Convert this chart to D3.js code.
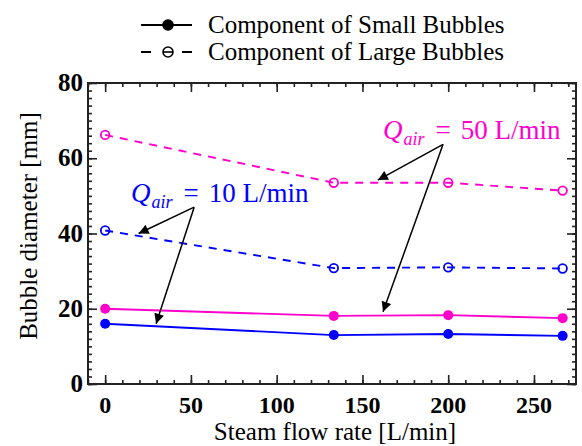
<!DOCTYPE html>
<html>
<head>
<meta charset="utf-8">
<script src="https://cdn.jsdelivr.net/npm/d3@7"></script>
<style>
  body { margin: 0; background: #fff; }
  svg text { font-family: "Liberation Serif", "Times New Roman", serif; }
</style>
</head>
<body>
<div id="chart"></div>
<script>
// steam flow rate [L/min]
const steamFlow = [0, 133.3, 200, 266.7];

// bubble diameter [mm]
const small10 = [16.0, 13.0, 13.3, 12.8];
const small50 = [20.0, 18.1, 18.3, 17.5];
const large10 = [40.8, 30.8, 31.0, 30.7];
const large50 = [66.2, 53.5, 53.5, 51.4];

const xTicks = [0, 50, 100, 150, 200, 250];
const yTicks = [0, 20, 40, 60, 80];

const blue = '#0000ff';
const pink = '#ff00cc';

const width = 582;
const height = 446;
const margin = {top: 83, right: 6, bottom: 62, left: 88};

const svg = d3.select('#chart')
    .append('svg')
    .attr('width', width)
    .attr('height', height);

const x = d3.scaleLinear()
    .domain([-10, 274.5])
    .range([margin.left, width - margin.right]);

const y = d3.scaleLinear()
    .domain([0, 80])
    .range([height - margin.bottom, margin.top]);

const x0 = margin.left, x1 = width - margin.right;
const y0 = height - margin.bottom, y1 = margin.top;

// ticks on all four sides, pointing in
const xMinor = d3.range(-10, 275, 10);
const yMinor = d3.range(0, 81, 2);

function tickAxis(axis, pos, ticks, size) {
    const g = svg.append('g')
        .attr('transform', pos)
        .call(axis.tickValues(ticks).tickSize(size).tickFormat(''));
    g.select('.domain').remove();
    g.selectAll('line').attr('stroke', '#222').attr('stroke-width', 1.6);
    return g;
}

tickAxis(d3.axisBottom(x), `translate(0,${y0})`, xMinor, -4);
tickAxis(d3.axisTop(x), `translate(0,${y1})`, xMinor, -4);
tickAxis(d3.axisBottom(x), `translate(0,${y0})`, xTicks, -9);
tickAxis(d3.axisTop(x), `translate(0,${y1})`, xTicks, -9);
tickAxis(d3.axisLeft(y), `translate(${x0},0)`, yMinor, -4);
tickAxis(d3.axisRight(y), `translate(${x1},0)`, yMinor, -4);
tickAxis(d3.axisLeft(y), `translate(${x0},0)`, yTicks, -9);
tickAxis(d3.axisRight(y), `translate(${x1},0)`, yTicks, -9);

// tick labels
svg.append('g').selectAll('text')
    .data(xTicks)
    .enter().append('text')
    .attr('x', d => x(d))
    .attr('y', y0 + 29)
    .attr('text-anchor', 'middle')
    .attr('font-size', 24)
    .attr('font-weight', 'bold')
    .text(d => d);

svg.append('g').selectAll('text')
    .data(yTicks)
    .enter().append('text')
    .attr('x', x0 - 5)
    .attr('y', d => y(d) + 8)
    .attr('text-anchor', 'end')
    .attr('font-size', 25)
    .attr('font-weight', 'bold')
    .text(d => d);

// frame
svg.append('rect')
    .attr('x', x0)
    .attr('y', y1)
    .attr('width', x1 - x0)
    .attr('height', y0 - y1)
    .attr('fill', 'none')
    .attr('stroke', '#222')
    .attr('stroke-width', 2);

// axis titles
svg.append('text')
    .attr('x', (x0 + x1) / 2 + 3)
    .attr('y', 440)
    .attr('text-anchor', 'middle')
    .attr('font-size', 25)
    .text('Steam flow rate [L/min]');

svg.append('text')
    .attr('transform', `translate(37,226) rotate(-90)`)
    .attr('text-anchor', 'middle')
    .attr('font-size', 25)
    .text('Bubble diameter [mm]');

// series
const series = [
    {values: large50, color: pink, dashed: true},
    {values: large10, color: blue, dashed: true},
    {values: small50, color: pink, dashed: false},
    {values: small10, color: blue, dashed: false}
];

const line = d3.line()
    .x((d, i) => x(steamFlow[i]))
    .y(d => y(d));

series.forEach(s => {
    svg.append('path')
        .datum(s.values)
        .attr('d', line)
        .attr('fill', 'none')
        .attr('stroke', s.color)
        .attr('stroke-width', 1.9)
        .attr('stroke-dasharray', s.dashed ? '8,7' : null);

    svg.append('g').selectAll('circle')
        .data(s.values)
        .enter().append('circle')
        .attr('cx', (d, i) => x(steamFlow[i]))
        .attr('cy', d => y(d))
        .attr('r', s.dashed ? 4.3 : 5)
        .attr('fill', s.dashed ? 'none' : s.color)
        .attr('stroke', s.color)
        .attr('stroke-width', s.dashed ? 1.8 : 0);
});

// annotations
const defs = svg.append('defs');
defs.append('marker')
    .attr('id', 'head')
    .attr('viewBox', '0 0 10 10')
    .attr('refX', 10)
    .attr('refY', 5)
    .attr('markerWidth', 13)
    .attr('markerHeight', 10)
    .attr('markerUnits', 'userSpaceOnUse')
    .attr('orient', 'auto')
    .append('path')
    .attr('d', 'M0,0 L10,5 L0,10 z')
    .attr('fill', '#000');

const notes = [
    {label: '10', color: blue, tx: 131, ty: 202, from: [51.9, 47.0], to: [[19.5, 40.0], [29.7, 16.0]]},
    {label: '50', color: pink, tx: 383, ty: 139, from: [197, 63.7], to: [[159, 54.2], [162, 19.2]]}
];

notes.forEach(n => {
    const t = svg.append('text')
        .attr('x', n.tx)
        .attr('y', n.ty)
        .attr('fill', n.color)
        .attr('font-size', 27);
    t.append('tspan').attr('font-style', 'italic').text('Q');
    t.append('tspan').attr('font-style', 'italic').attr('font-size', 18).attr('dx', 1).attr('dy', 6).text('air');
    t.append('tspan').attr('dy', -6).attr('dx', 11).text('=');
    t.append('tspan').attr('dx', 10).text(`${n.label} L/min`);

    n.to.forEach(p => {
        svg.append('line')
            .attr('x1', x(n.from[0]))
            .attr('y1', y(n.from[1]))
            .attr('x2', x(p[0]))
            .attr('y2', y(p[1]))
            .attr('stroke', '#000')
            .attr('stroke-width', 1.5)
            .attr('marker-end', 'url(#head)');
    });
});

// legend
const legendItems = [
    {name: 'Component of Small Bubbles', dashed: false},
    {name: 'Component of Large Bubbles', dashed: true}
];

const legend = svg.append('g')
    .selectAll('g')
    .data(legendItems)
    .enter().append('g')
    .attr('transform', (d, i) => `translate(141,${25 + i * 27})`);

legend.append('line')
    .attr('x1', 0)
    .attr('x2', 51)
    .attr('stroke', '#000')
    .attr('stroke-width', 2.2)
    .attr('stroke-dasharray', d => d.dashed ? '10,31,10' : null);

legend.append('circle')
    .attr('cx', 27)
    .attr('r', d => d.dashed ? 5 : 5.8)
    .attr('fill', d => d.dashed ? '#fff' : '#000')
    .attr('stroke', '#000')
    .attr('stroke-width', d => d.dashed ? 1.6 : 0);

legend.filter(d => d.dashed).append('line')
    .attr('x1', 22)
    .attr('x2', 32)
    .attr('stroke', '#000')
    .attr('stroke-width', 1.6);

legend.append('text')
    .attr('x', 67)
    .attr('y', 8)
    .attr('font-size', 25)
    .text(d => d.name);
</script>
</body>
</html>
